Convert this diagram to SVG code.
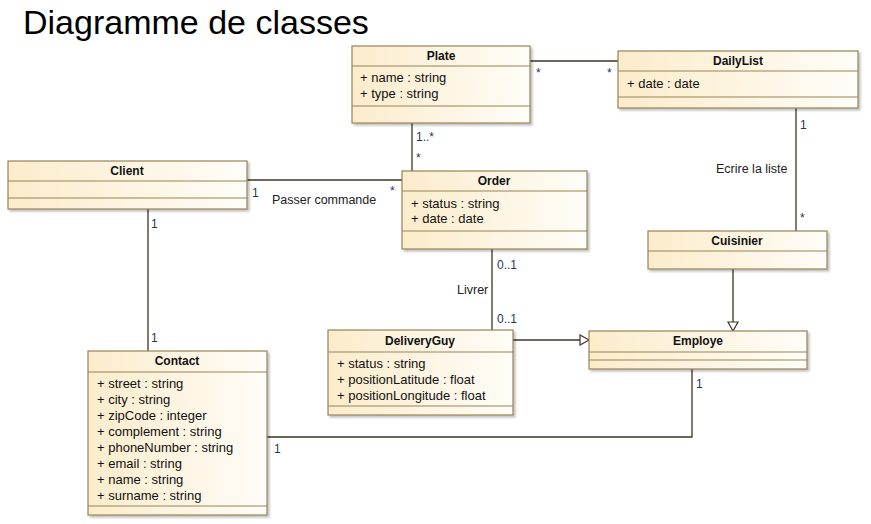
<svg xmlns="http://www.w3.org/2000/svg" width="871" height="524" viewBox="0 0 871 524">
<defs>
<linearGradient id="fill" x1="0" y1="0" x2="1" y2="0">
<stop offset="0" stop-color="#fbeccb"/>
<stop offset="1" stop-color="#fffdf8"/>
</linearGradient>
<filter id="sh" x="-5%" y="-5%" width="115%" height="120%">
<feOffset dx="2" dy="2" in="SourceAlpha" result="o"/>
<feGaussianBlur in="o" stdDeviation="1" result="b"/>
<feColorMatrix in="b" type="matrix" values="0 0 0 0 0  0 0 0 0 0  0 0 0 0 0  0 0 0 0.25 0" result="s"/>
<feMerge><feMergeNode in="s"/><feMergeNode in="SourceGraphic"/></feMerge>
</filter>
</defs>
<style>
.box{fill:url(#fill);stroke:#978357;stroke-width:1.2;filter:url(#sh)}
.sep{stroke:#978357;stroke-width:1.2}
.name{font-family:"Liberation Sans",Arial,sans-serif;font-size:12px;font-weight:bold;fill:#111;text-anchor:middle}
.attr{font-family:"Liberation Sans",Arial,sans-serif;font-size:13px;fill:#111}
.con{stroke:#3d3322;stroke-width:1.3;fill:none}
.mult{font-family:"Liberation Sans",Arial,sans-serif;font-size:12px;fill:#1f355c}
.lbl{font-family:"Liberation Sans",Arial,sans-serif;font-size:12.5px;fill:#222}
.tri{fill:#fff;stroke:#3d3322;stroke-width:1.2}
</style>
<rect width="871" height="524" fill="#fff"/>
<text x="23" y="34" font-family="Liberation Sans,Arial,sans-serif" font-size="34" fill="#000">Diagramme de classes</text>

<g id="connectors">
<line class="con" x1="530" y1="61" x2="618" y2="61"/>
<line class="con" x1="412" y1="123" x2="412" y2="171"/>
<line class="con" x1="247" y1="180" x2="402" y2="180"/>
<line class="con" x1="148" y1="209" x2="148" y2="351"/>
<line class="con" x1="796" y1="108" x2="796" y2="231"/>
<line class="con" x1="492" y1="249" x2="492" y2="330"/>
<line class="con" x1="513" y1="340" x2="580" y2="340"/>
<polygon class="tri" points="589,340 580,335 580,345"/>
<line class="con" x1="733" y1="269" x2="733" y2="322"/>
<polygon class="tri" points="733,331 728,322 738,322"/>
<polyline class="con" points="267,437 692,437 692,369"/>
<text class="mult" x="536" y="77">*</text>
<text class="mult" x="607" y="77">*</text>
<text class="mult" x="416" y="141">1..*</text>
<text class="mult" x="416" y="162">*</text>
<text class="mult" x="252" y="197">1</text>
<text class="lbl" x="272" y="204">Passer commande</text>
<text class="mult" x="390" y="195">*</text>
<text class="mult" x="151" y="228">1</text>
<text class="mult" x="151" y="342">1</text>
<text class="mult" x="800" y="129">1</text>
<text class="lbl" x="716" y="173">Ecrire la liste</text>
<text class="mult" x="800" y="222">*</text>
<text class="mult" x="497" y="269">0..1</text>
<text class="lbl" x="457" y="294">Livrer</text>
<text class="mult" x="497" y="323">0..1</text>
<text class="mult" x="696" y="388">1</text>
<text class="mult" x="274" y="453">1</text>
</g>

<g id="Plate">
<rect class="box" x="352" y="46" width="178" height="77"/>
<line class="sep" x1="352" y1="66" x2="530" y2="66"/>
<line class="sep" x1="352" y1="106" x2="530" y2="106"/>
<text class="name" x="441" y="60">Plate</text>
<text class="attr" x="360" y="82">+ name : string</text>
<text class="attr" x="360" y="98">+ type : string</text>
</g>

<g id="DailyList">
<rect class="box" x="618" y="51" width="240" height="57"/>
<line class="sep" x1="618" y1="71" x2="858" y2="71"/>
<line class="sep" x1="618" y1="97" x2="858" y2="97"/>
<text class="name" x="738" y="65">DailyList</text>
<text class="attr" x="627" y="88">+ date : date</text>
</g>

<g id="Client">
<rect class="box" x="8" y="161" width="239" height="48"/>
<line class="sep" x1="8" y1="181" x2="247" y2="181"/>
<line class="sep" x1="8" y1="198" x2="247" y2="198"/>
<text class="name" x="127" y="175">Client</text>
</g>

<g id="Order">
<rect class="box" x="402" y="171" width="185" height="78"/>
<line class="sep" x1="402" y1="191" x2="587" y2="191"/>
<line class="sep" x1="402" y1="231" x2="587" y2="231"/>
<text class="name" x="494" y="185">Order</text>
<text class="attr" x="411" y="208">+ status : string</text>
<text class="attr" x="411" y="223">+ date : date</text>
</g>

<g id="Cuisinier">
<rect class="box" x="648" y="231" width="179" height="38"/>
<line class="sep" x1="648" y1="251" x2="827" y2="251"/>
<text class="name" x="737" y="245">Cuisinier</text>
</g>

<g id="Employe">
<rect class="box" x="589" y="331" width="218" height="38"/>
<line class="sep" x1="589" y1="352" x2="807" y2="352"/>
<line class="sep" x1="589" y1="360" x2="807" y2="360"/>
<text class="name" x="698" y="345">Employe</text>
</g>

<g id="DeliveryGuy">
<rect class="box" x="328" y="330" width="185" height="85"/>
<line class="sep" x1="328" y1="352" x2="513" y2="352"/>
<line class="sep" x1="328" y1="406" x2="513" y2="406"/>
<text class="name" x="420" y="345">DeliveryGuy</text>
<text class="attr" x="337" y="368">+ status : string</text>
<text class="attr" x="337" y="384">+ positionLatitude : float</text>
<text class="attr" x="337" y="400">+ positionLongitude : float</text>
</g>

<g id="Contact">
<rect class="box" x="88" y="351" width="179" height="164"/>
<line class="sep" x1="88" y1="372" x2="267" y2="372"/>
<line class="sep" x1="88" y1="506" x2="267" y2="506"/>
<text class="name" x="177" y="365">Contact</text>
<text class="attr" x="97" y="388">+ street : string</text>
<text class="attr" x="97" y="404">+ city : string</text>
<text class="attr" x="97" y="420">+ zipCode : integer</text>
<text class="attr" x="97" y="436">+ complement : string</text>
<text class="attr" x="97" y="452">+ phoneNumber : string</text>
<text class="attr" x="97" y="468">+ email : string</text>
<text class="attr" x="97" y="484">+ name : string</text>
<text class="attr" x="97" y="500">+ surname : string</text>
</g>
</svg>
